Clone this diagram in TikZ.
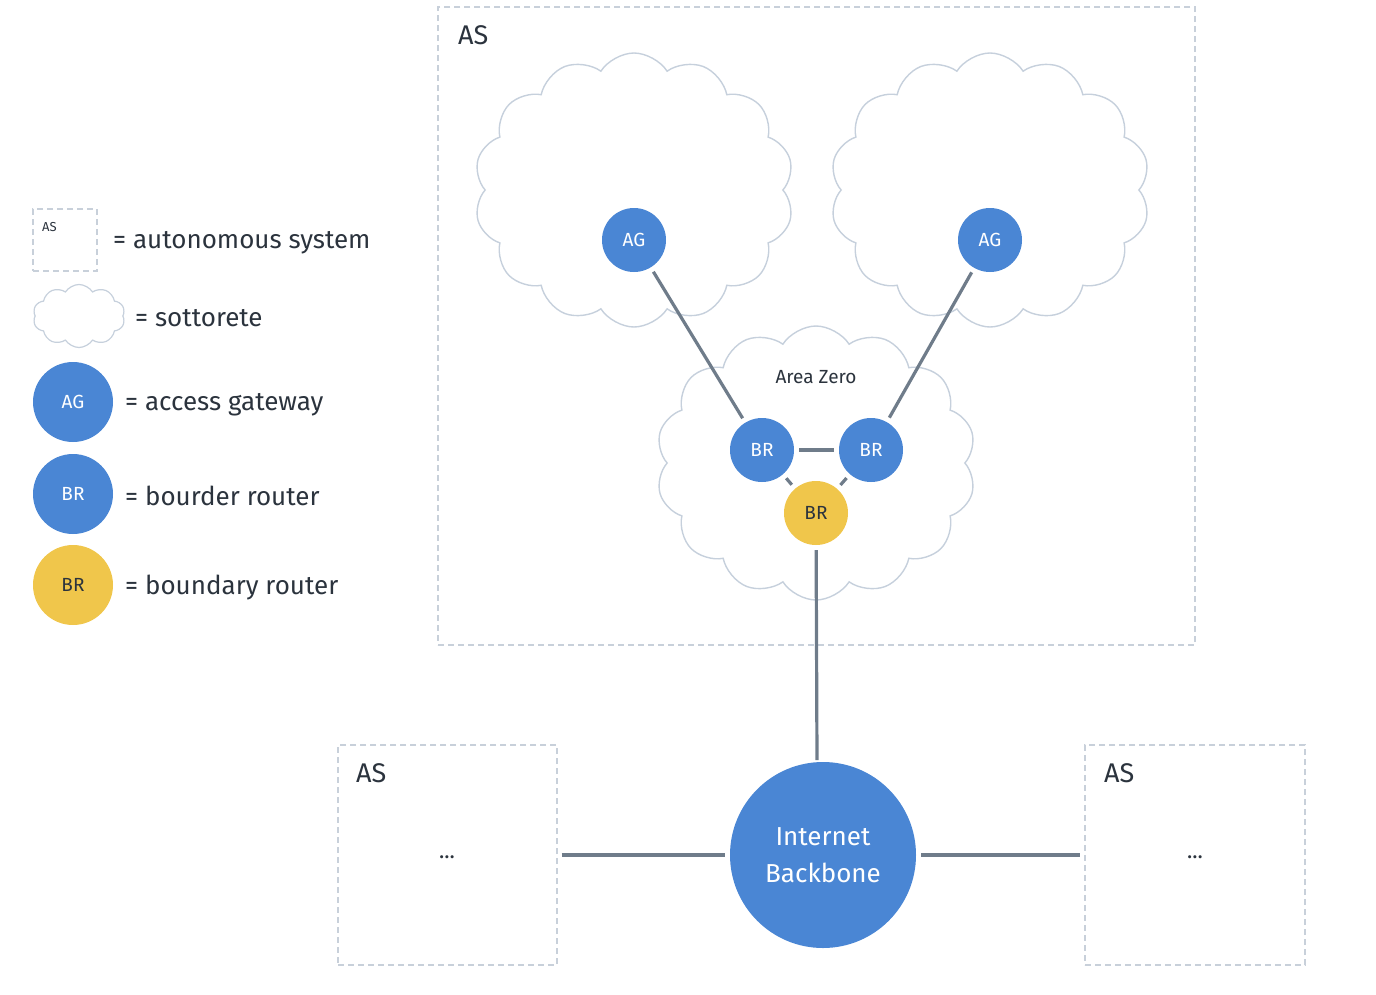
\documentclass[tikz,border=0pt]{standalone}
\usepackage{fontspec}
\setmainfont{Fira Sans}
\usetikzlibrary{shapes.symbols}
\definecolor{nblue}{HTML}{4A86D4}
\definecolor{nyellow}{HTML}{F0C64B}
\definecolor{lgray}{HTML}{6F7C8A}
\definecolor{cloudc}{HTML}{C6D0DC}
\definecolor{boxc}{HTML}{C8D0DA}
\definecolor{txt}{HTML}{2B333D}
\tikzset{
  asbox/.style={draw=boxc, line width=1.1pt, dash pattern=on 6pt off 4pt, inner sep=0pt, rectangle},
  subnet/.style={cloud, draw=cloudc, fill=white, line width=1.4pt, cloud puffs=14, cloud puff arc=115, inner sep=0pt, aspect=1.17},
  router/.style={circle, fill=nblue, text=white, inner sep=0pt, minimum size=64pt, font=\fontsize{19}{21}\selectfont},
  brout/.style={circle, fill=nyellow, text=txt, inner sep=0pt, minimum size=64pt, font=\fontsize{19}{21}\selectfont},
  link/.style={draw=lgray, line width=3.2pt, shorten >=5pt, shorten <=5pt},
  lbl/.style={text=txt, anchor=west, inner sep=0pt, font=\fontsize{26}{28}\selectfont},
  astitle/.style={text=txt, anchor=west, inner sep=0pt, font=\fontsize{27}{30}\selectfont},
}
\begin{document}
\begin{tikzpicture}[x=1pt,y=-1pt]
\useasboundingbox (0,0) rectangle (1376,994);
% big AS
\node[asbox, minimum width=757pt, minimum height=638pt] (asmain) at (816.5,326) {};
\node[astitle] (asmaint) at (458,35) {AS};
% clouds
\node[subnet, minimum width=320pt, minimum height=274pt] (cl1) at (634,190) {};
\node[subnet, minimum width=320pt, minimum height=274pt] (cl2) at (990,190) {};
\node[subnet, minimum width=320pt, minimum height=274pt] (cl0) at (816,463) {};
\node[text=txt, font=\fontsize{19}{21}\selectfont] (az) at (816,377) {Area Zero};
% routers
\node[router] (ag1) at (634,240) {AG};
\node[router] (ag2) at (990,240) {AG};
\node[router] (br1) at (762,450) {BR};
\node[router] (br2) at (871,450) {BR};
\node[brout] (br3) at (816,513) {BR};
\node[circle, fill=nblue, text=white, inner sep=0pt, minimum size=186pt, align=center, font=\fontsize{26}{37}\selectfont] (ib) at (823,855) {Internet\\Backbone};
\coordinate (ibtop) at (817,762);
% other AS
\node[asbox, minimum width=219pt, minimum height=220pt] (asl) at (447.5,855) {};
\node[astitle] (aslt) at (356,773) {AS};
\node[text=txt, font=\fontsize{22}{24}\selectfont] (asld) at (447,857) {...};
\node[asbox, minimum width=220pt, minimum height=220pt] (asr) at (1195,855) {};
\node[astitle] (asrt) at (1104,773) {AS};
\node[text=txt, font=\fontsize{22}{24}\selectfont] (asrd) at (1195,857) {...};
% links
\draw[link] (ag1) -- (br1);
\draw[link] (ag2) -- (br2);
\draw[link] (br1) -- (br2);
\draw[link] (br1) -- (br3);
\draw[link] (br2) -- (br3);
\draw[link, shorten >=2pt] (br3) -- (ibtop);
\draw[link, shorten <=4pt] (asl.east) -- (ib.west);
\draw[link, shorten >=4pt] (ib.east) -- (asr.west);
% legend
\node[asbox, minimum width=64pt, minimum height=62pt] (lgas) at (65,240) {};
\node[text=txt, anchor=west, inner sep=0pt, font=\fontsize{13}{15}\selectfont] (lgast) at (42,227) {AS};
\node[lbl] (lgt1) at (113,243) {= autonomous system};
\node[subnet, cloud puffs=10, line width=1.2pt, minimum width=92pt, minimum height=63pt, aspect=1.46] (lgcl) at (79,316) {};
\node[lbl] (lgt2) at (135,318) {= sottorete};
\node[router, minimum size=80pt] (lgag) at (73,402) {AG};
\node[lbl] (lgt3) at (125,405) {= access gateway};
\node[router, minimum size=80pt] (lgbr) at (73,494) {BR};
\node[lbl] (lgt4) at (125,496) {= bourder router};
\node[brout, minimum size=80pt] (lgby) at (73,585) {BR};
\node[lbl] (lgt5) at (125,588) {= boundary router};
\end{tikzpicture}
\end{document}
